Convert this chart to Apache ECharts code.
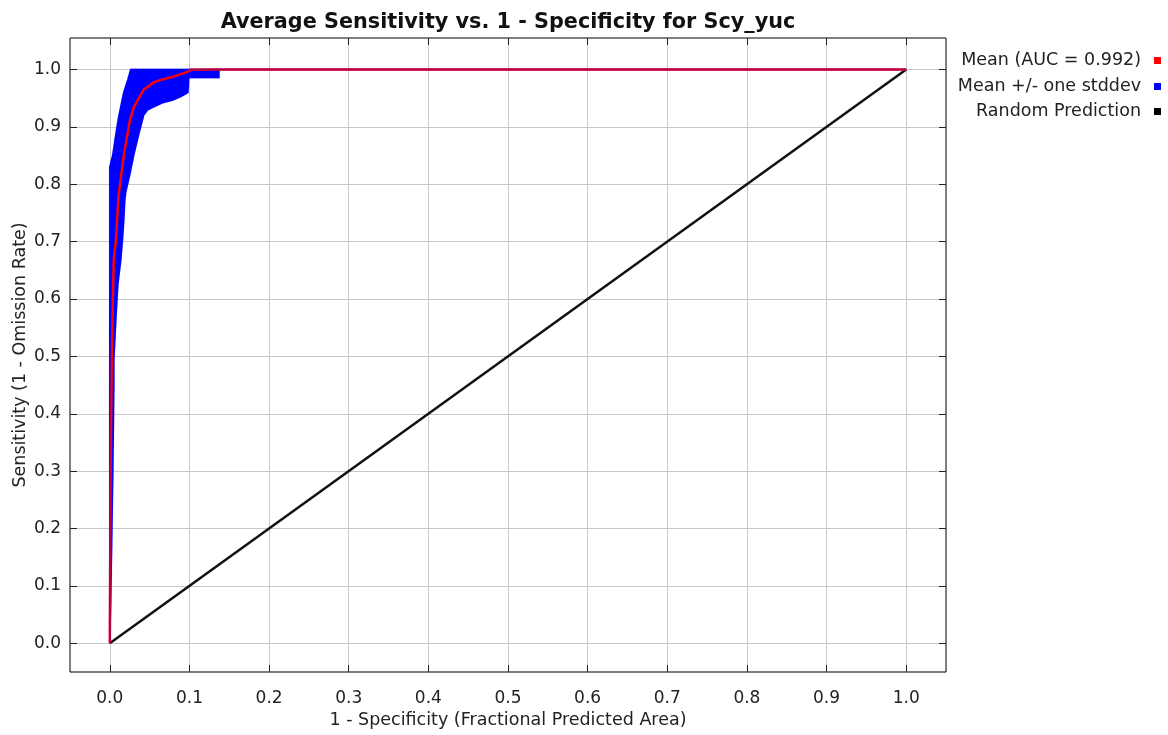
<!DOCTYPE html>
<html>
<head>
<meta charset="utf-8">
<script src="https://cdn.jsdelivr.net/npm/echarts@6/dist/echarts.min.js"></script>
<style>
  html, body { margin: 0; padding: 0; background: #fff; }
  #chart { width: 1168px; height: 735px; }
</style>
</head>
<body>
<div id="chart"></div>
<script>
// Tick positions shared by both axes
const xTicks = [0, 0.1, 0.2, 0.3, 0.4, 0.5, 0.6, 0.7, 0.8, 0.9, 1.0];
const yTicks = [0, 0.1, 0.2, 0.3, 0.4, 0.5, 0.6, 0.7, 0.8, 0.9, 1.0];

// Mean ROC curve: [1 - specificity, sensitivity]
const meanCurve = [
  [0, 0], [0.001, 0.30], [0.0025, 0.50], [0.0038, 0.60], [0.005, 0.67],
  [0.0075, 0.70], [0.011, 0.78], [0.0175, 0.85], [0.025, 0.91], [0.030, 0.934],
  [0.036, 0.949], [0.0426, 0.965], [0.048, 0.970], [0.054, 0.977], [0.064, 0.982],
  [0.076, 0.986], [0.089, 0.992], [0.096, 0.995], [0.101, 0.9995], [0.137, 1.0],
  [1, 1]
];

// Upper edge of the mean +/- one stddev band
const bandUpper = [
  [0, 0], [0, 0.83], [0.0038, 0.851], [0.0075, 0.886], [0.011, 0.916],
  [0.0175, 0.960], [0.0226, 0.982], [0.0263, 1.0], [1, 1]
];

// Lower edge of the mean +/- one stddev band
const bandLower = [
  [0, 0], [0.002, 0.15], [0.0038, 0.31], [0.005, 0.45], [0.005, 0.494],
  [0.0075, 0.564], [0.010, 0.625], [0.0138, 0.669], [0.0163, 0.712], [0.0175, 0.738],
  [0.0188, 0.773], [0.020, 0.787], [0.025, 0.817], [0.030, 0.851], [0.036, 0.886],
  [0.0426, 0.921], [0.0476, 0.930], [0.055, 0.935], [0.066, 0.942], [0.079, 0.947],
  [0.089, 0.953], [0.098, 0.960], [0.099, 0.986], [0.137, 0.986], [0.137, 1.0],
  [1, 1]
];

// Random prediction diagonal
const randomLine = [[0, 0], [1, 1]];

const legendItems = [
  { name: 'Mean (AUC = 0.992)', color: '#ff0000' },
  { name: 'Mean +/- one stddev', color: '#0000ff' },
  { name: 'Random Prediction', color: '#000000' }
];

const FONT = 'DejaVu Sans';
const chart = echarts.init(document.getElementById('chart'), null, { renderer: 'canvas' });

const fmt = v => Number(v).toFixed(1);

function axisCommon(ticks, showLabels) {
  return {
    type: 'value',
    min: -0.05,
    max: 1.05,
    nameMoveOverlap: false,
    axisLine: { show: false, onZero: false },
    axisTick: {
      show: true, inside: true, length: 7,
      customValues: ticks,
      lineStyle: { color: '#222', width: 1 }
    },
    axisLabel: {
      show: showLabels,
      customValues: ticks,
      formatter: fmt,
      color: '#222',
      fontFamily: FONT,
      fontSize: 17
    },
    splitLine: { show: false }
  };
}

const xBottom = Object.assign(axisCommon(xTicks, true), {
  position: 'bottom',
  name: '1 - Specificity (Fractional Predicted Area)',
  nameLocation: 'middle',
  nameGap: 39,
  nameTextStyle: { fontFamily: FONT, fontSize: 17.5, color: '#222' },
  splitLine: { show: true, lineStyle: { color: '#c8c8c8', width: 1 } }
});
xBottom.axisLabel.margin = 18;
const xTop = Object.assign(axisCommon(xTicks, false), { position: 'top' });

const yLeft = Object.assign(axisCommon(yTicks, true), {
  position: 'left',
  max: 1.055,
  name: 'Sensitivity (1 - Omission Rate)',
  nameLocation: 'middle',
  nameGap: 41,
  nameTextStyle: { fontFamily: FONT, fontSize: 17.5, color: '#222' },
  splitLine: { show: true, lineStyle: { color: '#c8c8c8', width: 1 } }
});
yLeft.axisLabel.margin = 9;
const yRight = Object.assign(axisCommon(yTicks, false), { position: 'right', max: 1.055 });

function bandPoints(api) {
  return bandUpper.map(p => api.coord(p))
    .concat(bandLower.slice().reverse().map(p => api.coord(p)));
}

// Filled band, drawn beneath the mean curve
function renderBandFill(params, api) {
  return {
    type: 'polygon',
    shape: { points: bandPoints(api) },
    style: { fill: '#0000ff', stroke: '#0000ff', lineWidth: 1.5 }
  };
}

// Thin translucent band outline, drawn above the mean curve
function renderBandEdge(params, api) {
  return {
    type: 'polygon',
    shape: { points: bandPoints(api) },
    style: { fill: 'none', stroke: 'rgba(0,0,255,0.28)', lineWidth: 2 }
  };
}

const legendGraphics = [];
const legendRight = 1141;
const legendRowY = [60, 86, 111];
legendItems.forEach((it, i) => {
  legendGraphics.push({
    type: 'text',
    x: legendRight,
    y: legendRowY[i],
    style: {
      text: it.name,
      textAlign: 'right',
      textVerticalAlign: 'middle',
      fill: '#222',
      font: '17.5px "' + FONT + '"'
    }
  });
  legendGraphics.push({
    type: 'rect',
    x: 1154,
    y: legendRowY[i] - 3,
    shape: { x: 0, y: 0, width: 7, height: 7 },
    style: { fill: it.color }
  });
});

chart.setOption({
  animation: false,
  backgroundColor: '#ffffff',
  title: {
    text: 'Average Sensitivity vs. 1 - Specificity for Scy_yuc',
    left: 503,
    textAlign: 'center',
    top: 7,
    textStyle: { fontFamily: FONT, fontSize: 20.75, fontWeight: 'bold', color: '#111' }
  },
  grid: {
    left: 70, right: 222, top: 38, bottom: 63,
    outerBoundsMode: 'none',
    containLabel: false,
    show: true,
    backgroundColor: '#ffffff',
    borderColor: '#000',
    borderWidth: 1
  },
  xAxis: [xBottom, xTop],
  yAxis: [yLeft, yRight],
  graphic: legendGraphics,
  series: [
    {
      name: 'Mean +/- one stddev',
      type: 'custom',
      renderItem: renderBandFill,
      data: [0],
      z: 2,
      silent: true
    },
    {
      name: 'Random Prediction',
      type: 'line',
      data: randomLine,
      showSymbol: false,
      lineStyle: { color: '#111', width: 2.5 },
      z: 3
    },
    {
      name: 'Mean (AUC = 0.992)',
      type: 'line',
      data: meanCurve,
      showSymbol: false,
      lineStyle: { color: '#ff0000', width: 2.5 },
      z: 4
    },
    {
      name: 'Mean +/- one stddev edge',
      type: 'custom',
      renderItem: renderBandEdge,
      data: [0],
      z: 5,
      silent: true
    }
  ]
});
</script>
</body>
</html>
